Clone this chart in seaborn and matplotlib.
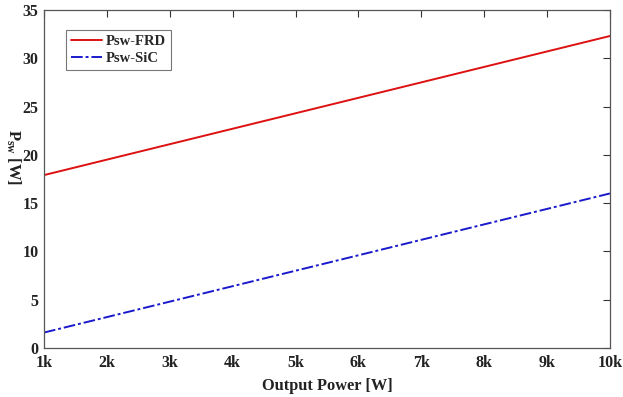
import matplotlib
matplotlib.use("Agg")
import matplotlib.pyplot as plt
import seaborn as sns
import pandas as pd

power_kw = [1, 2, 3, 4, 5, 6, 7, 8, 9, 10]
psw_frd = [17.9, 19.5, 21.1, 22.7, 24.3, 25.9, 27.5, 29.1, 30.7, 32.3]
psw_sic = [1.6, 3.2, 4.8, 6.4, 8.0, 9.6, 11.2, 12.8, 14.4, 16.0]
xtick_labels = ["1k", "2k", "3k", "4k", "5k", "6k", "7k", "8k", "9k", "10k"]

sns.set_theme(style="white")
plt.rcParams['font.family'] = ['Liberation Serif', 'DejaVu Serif']
plt.rcParams['font.weight'] = 'bold'
plt.rcParams['mathtext.fontset'] = 'custom'
plt.rcParams['mathtext.rm'] = 'Liberation Serif:bold'
plt.rcParams['mathtext.it'] = 'Liberation Serif:bold'
plt.rcParams['mathtext.bf'] = 'Liberation Serif:bold'

df = pd.DataFrame({
    "P": power_kw * 2,
    "Psw": psw_frd + psw_sic,
    "series": ["Psw-FRD"] * len(power_kw) + ["Psw-SiC"] * len(power_kw),
})

fig = plt.figure(figsize=(6.23, 3.97), dpi=100)
ax = fig.add_axes([0.0706, 0.1234, 0.9084, 0.8516])

sns.lineplot(data=df, x="P", y="Psw", hue="series", style="series",
             palette={"Psw-FRD": "#dd1111", "Psw-SiC": "#1a1acc"},
             dashes={"Psw-FRD": "", "Psw-SiC": (6, 1.5, 1.5, 1.5)},
             linewidth=1.4, ax=ax)

ax.set_xlim(1, 10)
ax.set_ylim(0, 35)
ax.set_xticks(power_kw)
ax.set_xticklabels(xtick_labels)
ax.set_yticks(range(0, 36, 5))
ax.tick_params(direction="in", length=5, width=0.8, top=True, right=True,
               labelsize=11.5, colors="#333333", labelcolor="#222222")
ax.tick_params(axis="x", pad=5)
ax.tick_params(axis="y", pad=4)
for lab in ax.get_xticklabels() + ax.get_yticklabels():
    lab.set_fontweight("bold")
for s in ax.spines.values():
    s.set_color("#555555")
    s.set_linewidth(0.9)

ax.set_xlabel("Output Power [W]", fontsize=11.8, fontweight="bold", color="#222222",
              va="center")
ax.xaxis.set_label_coords(0.5, -0.113)
ax.set_ylabel(r"$\mathbf{P_{sw}}$ [W]", fontsize=12, fontweight="bold", color="#222222",
              rotation=270, va="center")
ax.yaxis.set_label_coords(-0.055, 0.565)

leg = ax.legend(loc="upper left", bbox_to_anchor=(0.039, 0.941), borderaxespad=0,
                frameon=True, fancybox=False, edgecolor="#555555", fontsize=10.5,
                handlelength=2.1, handletextpad=0.3, borderpad=0.35, labelspacing=0.25)
leg.get_frame().set_linewidth(0.8)
for t in leg.get_texts():
    t.set_fontweight("bold")

fig.savefig("out.png", dpi=100)
